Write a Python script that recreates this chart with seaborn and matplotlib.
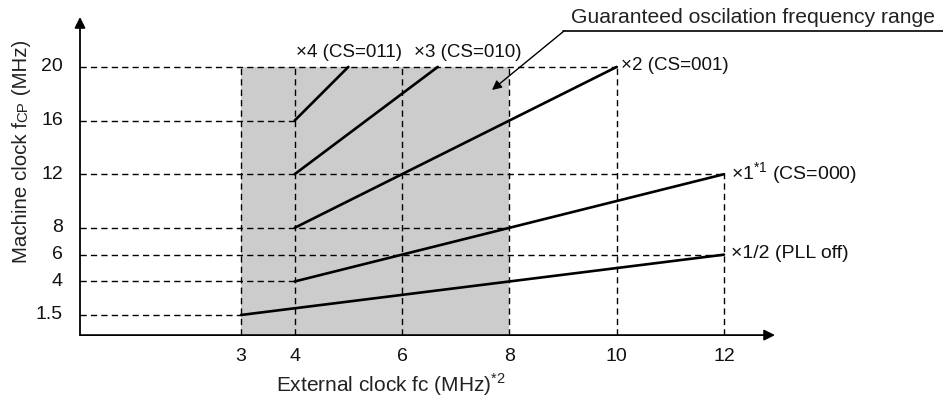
import numpy as np
import pandas as pd
import matplotlib
matplotlib.use("Agg")
import matplotlib.pyplot as plt
import seaborn as sns

# multiplier lines: start / end points
series = ["x1/2", "x1", "x2", "x3", "x4"]
fc_start = [3, 4, 4, 4, 4]
fc_end = [12, 12, 10, 20 / 3, 5]
fcp_start = [1.5, 4, 8, 12, 16]
fcp_end = [6, 12, 20, 20, 20]

line_labels = ["×1/2 (PLL off)", "×1$^{\\mathrm{*1}}$ (CS=000)", "×2 (CS=001)",
               "×3 (CS=010)", "×4 (CS=011)"]

x_ticks = [3, 4, 6, 8, 10, 12]
y_ticks = [1.5, 4, 6, 8, 12, 16, 20]
# how far each guide line reaches
h_guide_end = [3, 4, 12, 8, 12, 4, 10]
v_guide_top = [20, 20, 20, 20, 20, 12]

# guaranteed range
range_fc = [3, 8]
range_fcp = [0, 20]

sns.set_theme(style="white")
plt.rcParams["font.family"] = ["Liberation Sans", "DejaVu Sans"]
plt.rcParams["mathtext.fontset"] = "custom"
plt.rcParams["mathtext.rm"] = "Liberation Sans"

W, H = 943, 404
fig = plt.figure(figsize=(W / 100, H / 100), dpi=100)
ax = fig.add_axes([0, 0, 1, 1])

# pixel mapping: origin at (80, 335), 53.67 px per MHz in x, 13.41 in y
x0, y0, sx, sy = 80, 335.1, 53.67, 13.41
ax.set_xlim(-x0 / sx, (W - x0) / sx)
ax.set_ylim(-(H - y0) / sy, y0 / sy)
ax.axis("off")

ax.fill_between(range_fc, range_fcp[0], range_fcp[1], color="#cccccc", lw=0, zorder=0)

dash = dict(color="black", lw=1.0, ls=(0, (4.5, 3)), zorder=2)
for yv, xe in zip(y_ticks, h_guide_end):
    ax.plot([0, xe], [yv, yv], **dash)
for xv, yt in zip(x_ticks, v_guide_top):
    ax.plot([xv, xv], [0, yt], **dash)

rows = []
for name, a, b, c, d in zip(series, fc_start, fc_end, fcp_start, fcp_end):
    rows.append({"series": name, "fc": a, "fcp": c})
    rows.append({"series": name, "fc": b, "fcp": d})
df = pd.DataFrame(rows)
sns.lineplot(data=df, x="fc", y="fcp", units="series", estimator=None,
             color="black", lw=1.9, ax=ax, zorder=3)

# axes with arrows
ax.annotate("", xy=(0, (y0 - 17) / sy), xytext=(0, 0),
            arrowprops=dict(arrowstyle="-|>", color="black", lw=1.3,
                            mutation_scale=16, shrinkA=0, shrinkB=0))
ax.annotate("", xy=((775 - x0) / sx, 0), xytext=(0, 0),
            arrowprops=dict(arrowstyle="-|>", color="black", lw=1.3,
                            mutation_scale=16, shrinkA=0, shrinkB=0))

fs = 14
for yv in y_ticks:
    ax.text(-0.32, yv, f"{yv:g}", ha="right", va="center", fontsize=fs, color="#111111")
for xv in x_ticks:
    ax.text(xv, -1.62, f"{xv:g}", ha="center", va="center", fontsize=fs, color="#111111")

ax.text(391 / sx - x0 / sx, (y0 - 385) / sy, "External clock fc (MHz)$^{\\mathrm{*2}}$",
        ha="center", va="center", fontsize=15, color="#222222")

# y label: "Machine clock f" + small "CP" + " (MHz)"
fig.canvas.draw()
r = fig.canvas.get_renderer()
ypos = (H - 263) / H
xlab = 27 / W
for txt, size in [("Machine clock f", 14.8), ("CP", 10.8), (" (MHz)", 14.8)]:
    t = fig.text(xlab, ypos, txt, rotation=90, rotation_mode="anchor",
                 ha="left", va="baseline", fontsize=size, color="#222222")
    ypos += t.get_window_extent(r).height / H

# line labels
lab_pos = [((731 - x0) / sx, 6.1), ((731 - x0) / sx, 12.0), ((621 - x0) / sx, 20.1),
           ((414 - x0) / sx, 21.1), ((296 - x0) / sx, 21.1)]
lab_size = [14, 14, 13.5, 13.5, 13.5]
for txt, (lx, ly), s in zip(line_labels, lab_pos, lab_size):
    ax.text(lx, ly, txt, ha="left", va="center", fontsize=s, color="#111111")

# range callout
ax.text((935 - x0) / sx, (y0 - 17) / sy, "Guaranteed oscilation frequency range",
        ha="right", va="center", fontsize=15.2, color="#222222")
ax.plot([(563 - x0) / sx, (W + 5 - x0) / sx], [(y0 - 31) / sy] * 2, color="black", lw=1.2)
ax.annotate("", xy=((492 - x0) / sx, (y0 - 90) / sy), xytext=((564 - x0) / sx, (y0 - 31) / sy),
            arrowprops=dict(arrowstyle="-|>", color="black", lw=1.0,
                            mutation_scale=14, shrinkA=0, shrinkB=0))

fig.savefig("out.png", dpi=100)
